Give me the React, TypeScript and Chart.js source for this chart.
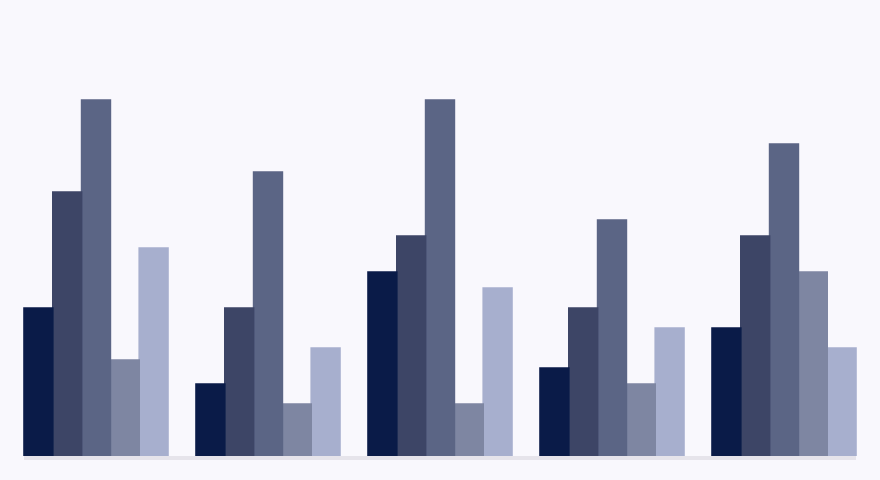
import { useEffect, useRef } from "react";
import { Chart, registerables } from "chart.js";

Chart.register(...registerables);

const categories = ["A", "B", "C", "D", "E"];
const series1 = [37, 18, 46, 22, 32];
const series2 = [66, 37, 55, 37, 55];
const series3 = [89, 71, 89, 59, 78];
const series4 = [24, 13, 13, 18, 46];
const series5 = [52, 27, 42, 32, 27];
const seriesColors = ["#0a1b48", "#3d4566", "#5b6585", "#7e86a2", "#a7afce"];

const baseline = {
  id: "baseline",
  afterDatasetsDraw(chart: Chart) {
    const first = chart.getDatasetMeta(0).data[0] as any;
    const lastMeta = chart.getDatasetMeta(chart.data.datasets.length - 1);
    const last = lastMeta.data[lastMeta.data.length - 1] as any;
    if (!first || !last) return;
    const { ctx, chartArea } = chart;
    const x0 = first.x - first.width / 2;
    const x1 = last.x + last.width / 2;
    ctx.save();
    ctx.fillStyle = "#e6e4eb";
    ctx.fillRect(x0, chartArea.bottom, x1 - x0, 4);
    ctx.restore();
  }
};

const App = () => {
  const canvasRef = useRef<HTMLCanvasElement | null>(null);
  const chartRef = useRef<Chart | null>(null);

  useEffect(() => {
    if (!canvasRef.current) return;
    const ctx = canvasRef.current.getContext("2d");
    if (!ctx) return;

    const all = [series1, series2, series3, series4, series5];

    chartRef.current = new Chart(ctx, {
      type: "bar",
      data: {
        labels: categories,
        datasets: all.map((d, i) => ({
          label: `Series ${i + 1}`,
          data: d,
          backgroundColor: seriesColors[i],
          borderWidth: 0,
          inflateAmount: 0.8,
          barPercentage: 1,
          categoryPercentage: 144 / 172
        }))
      },
      options: {
        responsive: true,
        maintainAspectRatio: false,
        animation: false,
        layout: { padding: { top: 16, bottom: 24, left: 10, right: 10 } },
        plugins: {
          legend: { display: false },
          tooltip: { enabled: false }
        },
        scales: {
          x: { display: false },
          y: { display: false, min: 0, max: 110 }
        }
      },
      plugins: [baseline]
    });

    return () => {
      chartRef.current?.destroy();
    };
  }, []);

  return (
    <div
      style={{
        position: "fixed",
        left: 0,
        top: 0,
        width: 880,
        height: 480,
        background: "#f9f8fd"
      }}
    >
      <canvas ref={canvasRef} />
    </div>
  );
};

export default App;
